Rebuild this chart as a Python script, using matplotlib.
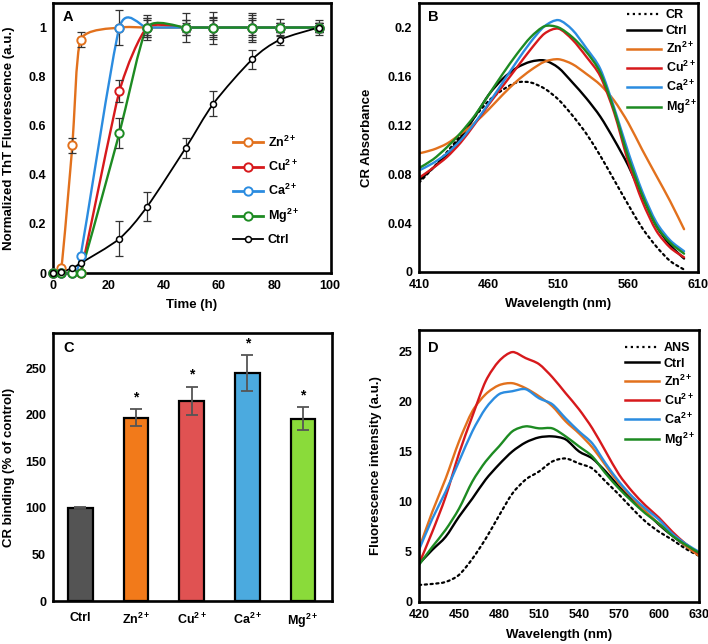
import numpy as np
import matplotlib.pyplot as plt
from matplotlib.path import Path
from matplotlib.patches import PathPatch
from matplotlib.lines import Line2D
from matplotlib.ticker import FormatStrFormatter

plt.rcParams['font.family'] = ['Liberation Sans', 'DejaVu Sans']
plt.rcParams['font.weight'] = 'bold'
plt.rcParams['mathtext.fontset'] = 'custom'
plt.rcParams['mathtext.rm'] = 'Liberation Sans:bold'
plt.rcParams['mathtext.bf'] = 'Liberation Sans:bold'
plt.rcParams['mathtext.it'] = 'Liberation Sans:bold'
plt.rcParams['mathtext.default'] = 'rm'

ORANGE = '#E2711D'
RED = '#D7191C'
BLUE = '#2B8CE0'
GREEN = '#1D8B22'

labels_ion = [r'Zn$^{2+}$', r'Cu$^{2+}$', r'Ca$^{2+}$', r'Mg$^{2+}$']

# ---- panel A: ThT kinetics
time_h = [0, 3, 7, 10, 24, 34, 48, 58, 72, 82, 96]
tht_zn = [0, 0.02, 0.52, 0.95, 1, 1, 1, 1, 1, 1, 1]
tht_cu = [0, 0, 0, 0.0, 0.74, 1, 1, 1, 1, 1, 1]
tht_ca = [0, 0, 0, 0.07, 1, 1, 1, 1, 1, 1, 1]
tht_mg = [0, 0, 0, 0, 0.57, 1, 1, 1, 1, 1, 1]
tht_ctrl = [0, 0.005, 0.02, 0.04, 0.14, 0.27, 0.51, 0.69, 0.87, 0.95, 1.0]
err_zn = [0, 0, 0.03, 0.03, 0, 0.04, 0.03, 0.045, 0.03, 0.02, 0.02]
err_cu = [0, 0, 0, 0, 0.045, 0.05, 0.06, 0.065, 0.06, 0.035, 0.02]
err_ca = [0, 0, 0, 0, 0.07, 0.03, 0.02, 0.03, 0.05, 0.02, 0.02]
err_mg = [0, 0, 0, 0, 0.06, 0.04, 0.03, 0.04, 0.04, 0.02, 0.02]
err_ctrl = [0, 0, 0, 0, 0.07, 0.06, 0.04, 0.05, 0.04, 0.02, 0.03]

# ---- panel B: CR absorbance
wl_b = list(range(410, 601, 10))
cr_free = [.073, .085, .098, .112, .127, .140, .149, .155, .155, .150,
           .141, .128, .113, .095, .075, .055, .036, .021, .009, .002]
cr_ctrl = [.075, .085, .096, .110, .127, .145, .158, .167, .172, .173,
           .167, .155, .142, .127, .108, .087, .062, .038, .022, .011]
cr_zn = [.097, .100, .105, .113, .122, .133, .145, .156, .165, .172,
         .174, .170, .162, .153, .140, .122, .100, .079, .058, .035]
cr_cu = [.077, .085, .094, .106, .121, .137, .152, .167, .182, .195,
         .199, .190, .176, .160, .130, .090, .058, .034, .020, .012]
cr_ca = [.083, .089, .097, .108, .122, .138, .155, .172, .188, .201,
         .206, .198, .183, .166, .134, .098, .066, .041, .026, .017]
cr_mg = [.085, .092, .102, .114, .128, .145, .162, .178, .192, .201,
         .200, .192, .180, .163, .132, .094, .063, .038, .024, .015]

# ---- panel C: CR binding
bar_names = ['Ctrl'] + labels_ion
bar_vals = [100, 197, 215, 245, 196]
bar_err = [0.5, 9, 15, 19, 12]
bar_colors = ['#545454', '#F27A1A', '#E05252', '#4BAADF', '#8ADB3A']

# ---- panel D: ANS fluorescence
wl_d = list(range(420, 631, 10))
ans_free = [1.7, 1.8, 2.0, 2.7, 4.3, 6.3, 8.6, 10.8, 12.2, 13.0, 14.0,
            14.3, 13.8, 13.3, 12.0, 10.7, 9.3, 8.0, 7.0, 6.2, 5.3, 4.6]
ans_ctrl = [3.8, 5.2, 6.5, 8.5, 10.3, 12.2, 13.7, 15.0, 15.9, 16.4, 16.5,
            16.2, 15.0, 14.3, 13.0, 11.5, 10.2, 9.0, 7.7, 6.6, 5.6, 4.7]
ans_zn = [5.3, 9.0, 12.3, 16.0, 19.0, 20.7, 21.6, 21.8, 21.3, 20.5, 19.5,
          18.0, 16.8, 15.4, 13.6, 11.8, 10.4, 9.0, 7.8, 6.7, 5.6, 4.6]
ans_cu = [3.8, 7.0, 10.5, 14.8, 18.5, 22.0, 24.0, 24.9, 24.3, 23.7, 22.4,
          20.8, 19.2, 17.3, 15.0, 12.7, 11.0, 9.6, 8.4, 7.0, 5.8, 4.8]
ans_ca = [5.2, 8.3, 11.0, 14.0, 17.0, 19.3, 20.7, 21.0, 21.2, 20.3, 19.7,
          18.3, 17.0, 15.8, 13.8, 12.0, 10.5, 9.3, 8.2, 6.8, 5.8, 5.0]
ans_mg = [3.7, 5.5, 7.2, 9.3, 12.0, 14.0, 15.5, 17.0, 17.5, 17.3, 17.3,
          16.5, 15.5, 14.5, 12.8, 11.3, 10.0, 8.8, 7.8, 6.6, 5.7, 4.9]


def smooth_path(x, y, k=1 / 7):
    # bezier through the points, like a spreadsheet "smoothed line"
    n = len(x)
    verts = [(x[0], y[0])]
    codes = [Path.MOVETO]
    for i in range(n - 1):
        a = max(i - 1, 0)
        b = min(i + 2, n - 1)
        c1 = (x[i] + (x[i + 1] - x[a]) * k, y[i] + (y[i + 1] - y[a]) * k)
        c2 = (x[i + 1] - (x[b] - x[i]) * k, y[i + 1] - (y[b] - y[i]) * k)
        verts += [c1, c2, (x[i + 1], y[i + 1])]
        codes += [Path.CURVE4] * 3
    return Path(verts, codes)


def curve(ax, x, y, color, lw=1.7, ls='-', k=1 / 7):
    ax.add_patch(PathPatch(smooth_path(x, y, k), fill=False, edgecolor=color,
                           lw=lw, linestyle=ls, capstyle='round'))


def style(ax):
    for s in ax.spines.values():
        s.set_linewidth(1.9)
    ax.tick_params(length=0, labelsize=9, pad=5)


def panel_letter(ax, letter, x, y):
    ax.text(x, y, letter, transform=ax.transAxes, fontsize=10.5,
            fontweight='bold', va='top', ha='left')


fig = plt.figure(figsize=(7.08, 6.44), dpi=100)
W, H = 708, 644


def add_axes(l, r, t, b):
    return fig.add_axes([l / W, 1 - b / H, (r - l) / W, (b - t) / H])


axA = add_axes(53, 331, 3, 273)
axB = add_axes(419, 698, 3, 272)
axC = add_axes(53, 332, 333, 601)
axD = add_axes(419, 699, 330, 602)

# ---------- A
series_a = [(tht_zn, err_zn, ORANGE), (tht_cu, err_cu, RED),
            (tht_ca, err_ca, BLUE), (tht_mg, err_mg, GREEN)]
for y, e, c in series_a + [(tht_ctrl, err_ctrl, 'black')]:
    tt = [ti for ti, ei in zip(time_h, e) if ei > 0]
    yy = [yi for yi, ei in zip(y, e) if ei > 0]
    ee = [ei for ei in e if ei > 0]
    axA.errorbar(tt, yy, yerr=ee, fmt='none', ecolor='#333333',
                 elinewidth=0.9, capsize=3.2, capthick=0.9, zorder=2)
for y, e, c in series_a:
    curve(axA, time_h, y, c, k=0.1)
    axA.plot(time_h, y, 'o', ms=6, mfc='white', mec=c, mew=1.4,
             clip_on=False, zorder=4)
curve(axA, time_h, tht_ctrl, 'black', lw=1.3)
axA.plot(time_h, tht_ctrl, 'o', ms=4.3, mfc='white', mec='black', mew=1.1,
         clip_on=False, zorder=5)
axA.set_xlim(0, 100.5)
axA.set_ylim(0, 1.1)
axA.set_xticks(range(0, 101, 20))
axA.set_yticks([0, 0.2, 0.4, 0.6, 0.8, 1])
axA.yaxis.set_major_formatter(FormatStrFormatter('%g'))
style(axA)
axA.set_xlabel('Time (h)', fontsize=9.5, fontweight='bold')
axA.set_ylabel('Normalized ThT Fluorescence (a.u.)', fontsize=9.5,
               fontweight='bold')
axA.xaxis.set_label_coords(0.5, -0.095)
axA.yaxis.set_label_coords(-0.137, 0.5)
handles = [Line2D([0], [0], color=c, lw=2, marker='o', ms=6, mfc='white',
                  mec=c, mew=1.4) for _, _, c in series_a]
handles.append(Line2D([0], [0], color='black', lw=1.3, marker='o', ms=4.3,
                      mfc='white', mec='black', mew=1.1))
axA.legend(handles, labels_ion + ['Ctrl'], loc='center left',
           bbox_to_anchor=(0.647, 0.306), frameon=False, fontsize=9,
           handlelength=2.4, handletextpad=0.4, labelspacing=0.72,
           borderaxespad=0, borderpad=0)
panel_letter(axA, 'A', 0.036, 0.975)

# ---------- B
curve(axB, wl_b, cr_free, 'black', lw=1.6, ls=(0, (1, 1.6)))
curve(axB, wl_b, cr_ctrl, 'black')
curve(axB, wl_b, cr_zn, ORANGE)
curve(axB, wl_b, cr_cu, RED)
curve(axB, wl_b, cr_ca, BLUE)
curve(axB, wl_b, cr_mg, GREEN)
axB.set_xlim(410, 610)
axB.set_ylim(0, 0.22)
axB.set_xticks(range(410, 611, 50))
axB.set_yticks([0, 0.04, 0.08, 0.12, 0.16, 0.2])
axB.yaxis.set_major_formatter(FormatStrFormatter('%g'))
style(axB)
axB.set_xlabel('Wavelength (nm)', fontsize=9.5, fontweight='bold')
axB.set_ylabel('CR Absorbance', fontsize=9.5, fontweight='bold')
axB.xaxis.set_label_coords(0.5, -0.095)
axB.yaxis.set_label_coords(-0.165, 0.5)
hb = [Line2D([0], [0], color='black', lw=1.6, ls=(0, (1, 1.6))),
      Line2D([0], [0], color='black', lw=1.8)]
hb += [Line2D([0], [0], color=c, lw=1.8) for c in (ORANGE, RED, BLUE, GREEN)]
axB.legend(hb, ['CR', 'Ctrl'] + labels_ion, loc='center left',
           bbox_to_anchor=(0.745, 0.778), frameon=False, fontsize=9,
           handlelength=2.7, handletextpad=0.4, labelspacing=0.3,
           borderaxespad=0, borderpad=0)
panel_letter(axB, 'B', 0.032, 0.975)

# ---------- C
xpos = np.arange(len(bar_names))
axC.bar(xpos, bar_vals, width=0.44, color=bar_colors, edgecolor='black',
        linewidth=1.6, zorder=2)
axC.errorbar(xpos, bar_vals, yerr=bar_err, fmt='none', ecolor='#555555',
             elinewidth=1.3, capsize=4, capthick=1.3, zorder=3)
for xi, v, e in zip(xpos[1:], bar_vals[1:], bar_err[1:]):
    axC.text(xi, v + e + 13, '*', ha='center', va='center', fontsize=10,
             fontweight='bold')
axC.set_xlim(-0.49, 4.52)
axC.set_ylim(0, 288)
axC.set_xticks(xpos)
axC.set_xticklabels(bar_names)
axC.set_yticks(range(0, 251, 50))
style(axC)
axC.tick_params(axis='x', pad=8)
axC.set_ylabel('CR binding (% of control)', fontsize=9.5, fontweight='bold')
axC.yaxis.set_label_coords(-0.136, 0.5)
panel_letter(axC, 'C', 0.036, 0.97)

# ---------- D
curve(axD, wl_d, ans_free, 'black', lw=1.6, ls=(0, (1, 1.6)))
curve(axD, wl_d, ans_ctrl, 'black')
curve(axD, wl_d, ans_zn, ORANGE)
curve(axD, wl_d, ans_cu, RED)
curve(axD, wl_d, ans_ca, BLUE)
curve(axD, wl_d, ans_mg, GREEN)
axD.set_xlim(420, 630)
axD.set_ylim(0, 27.1)
axD.set_xticks(range(420, 631, 30))
axD.set_yticks(range(0, 26, 5))
style(axD)
axD.set_xlabel('Wavelength (nm)', fontsize=9.5, fontweight='bold')
axD.set_ylabel('Fluorescence intensity (a.u.)', fontsize=9.5,
               fontweight='bold')
axD.xaxis.set_label_coords(0.5, -0.1)
axD.yaxis.set_label_coords(-0.132, 0.5)
axD.legend(hb, ['ANS', 'Ctrl'] + labels_ion, loc='center left',
           bbox_to_anchor=(0.736, 0.76), frameon=False, fontsize=9,
           handlelength=2.7, handletextpad=0.4, labelspacing=0.3,
           borderaxespad=0, borderpad=0)
panel_letter(axD, 'D', 0.032, 0.96)

fig.savefig('out.png', dpi=100)
